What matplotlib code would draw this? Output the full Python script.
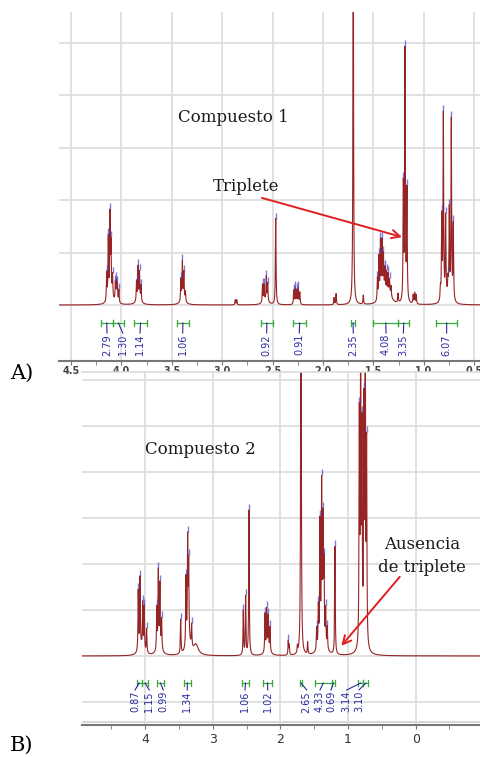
import numpy as np
import matplotlib
matplotlib.use("Agg")
import matplotlib.pyplot as plt
from matplotlib.ticker import MultipleLocator, FormatStrFormatter

# Compuesto 1
top_ppm = [4.146, 4.130, 4.113, 4.103, 4.088, 4.060, 4.050, 4.040, 4.025,
           3.850, 3.835, 3.820, 3.805, 3.410, 3.395, 3.380, 3.365,
           2.870, 2.855, 2.600, 2.585, 2.562, 2.548, 2.469,
           2.290, 2.275, 2.260, 2.245, 2.230, 1.890, 1.870, 1.700, 1.600,
           1.460, 1.445, 1.430, 1.415, 1.400, 1.385, 1.370, 1.355, 1.340, 1.325,
           1.255, 1.203, 1.186, 1.167, 1.105, 1.090, 1.075,
           0.835, 0.822, 0.806, 0.783, 0.760, 0.747, 0.727, 0.707]
top_int = [28, 62, 82, 50, 22, 18, 20, 18, 13,
           20, 33, 28, 16, 22, 38, 28, 10,
           5, 5, 18, 16, 24, 18, 86,
           14, 16, 14, 16, 12, 7, 11, 400, 9,
           22, 42, 55, 52, 36, 24, 22, 20, 14, 10,
           9, 115, 250, 110, 9, 11, 9,
           12, 82, 185, 80, 15, 88, 180, 76]
top_broad_ppm = [4.10, 3.83, 3.39, 2.57, 1.40, 1.34, 0.77]
top_broad_int = [6, 4, 4, 4, 10, 8, 6]

# Compuesto 2
bot_ppm = [4.104, 4.078, 4.038, 4.015, 3.980, 3.830, 3.807, 3.783, 3.758,
           3.476, 3.398, 3.373, 3.358, 3.314,
           2.550, 2.515, 2.466, 2.229, 2.204, 2.180, 2.155,
           1.885, 1.870, 1.750, 1.697, 1.598,
           1.465, 1.440, 1.416, 1.391, 1.371, 1.356, 1.331, 1.307, 1.194,
           0.834, 0.814, 0.795, 0.765, 0.746, 0.726]
bot_int = [60, 70, 45, 44, 24, 42, 76, 62, 30,
           34, 68, 100, 74, 22,
           44, 58, 145, 38, 40, 33, 24,
           14, 10, 7, 500, 12,
           22, 40, 120, 150, 112, 72, 36, 22, 108,
           225, 320, 200, 225, 320, 195]
bot_broad_ppm = [4.06, 3.79, 3.36, 3.25, 2.19, 1.38, 0.78]
bot_broad_int = [8, 8, 14, 10, 6, 18, 10]

# integrales
top_lab = ['2.79', '1.30', '1.14', '1.06', '0.92', '0.91', '2.35', '4.08', '3.35', '6.07']
top_i1 = [4.205, 4.086, 3.872, 3.451, 2.615, 2.295, 1.722, 1.501, 1.253, 0.879]
top_i2 = [4.086, 3.974, 3.749, 3.329, 2.499, 2.169, 1.680, 1.253, 1.144, 0.668]
top_lx = [4.143, 3.987, 3.816, 3.392, 2.559, 2.235, 1.700, 1.375, 1.203, 0.773]

bot_lab = ['0.87', '1.15', '0.99', '1.34', '1.06', '1.02', '2.65', '4.33', '0.69', '3.14', '3.10']
bot_i1 = [4.127, 4.053, 3.831, 3.428, 2.574, 2.254, 1.712, 1.490, 1.243, 0.849, 0.775]
bot_i2 = [4.053, 3.956, 3.723, 3.328, 2.462, 2.130, 1.682, 1.243, 1.194, 0.775, 0.701]
bot_lx = [4.152, 3.941, 3.734, 3.379, 2.525, 2.189, 1.612, 1.416, 1.253, 1.021, 0.839]

line_col = '#962424'
grid_col = '#dcdcdc'
int_col = '#3aaa3a'
num_col = '#2a2aa0'


def spectrum(x, ppm, inten, w, bppm, bint, bw):
    y = np.zeros_like(x)
    for p, h in zip(ppm, inten):
        y += h / (1 + ((x - p) / w) ** 2)
    for p, h in zip(bppm, bint):
        y += h / (1 + ((x - p) / bw) ** 2)
    return y


fig = plt.figure(figsize=(4.81, 7.57), dpi=100)
arrow = dict(arrowstyle='->, head_length=0.6, head_width=0.3', color='#e02020',
             lw=1.4, shrinkA=0, shrinkB=0)

# ---------- panel A ----------
ax1 = fig.add_axes([0.1227, 0.5235, 0.8773, 0.4606])
x1 = np.linspace(0.40, 4.65, 20000)
y1 = spectrum(x1, top_ppm, top_int, 0.0035, top_broad_ppm, top_broad_int, 0.03)
ax1.plot(x1, y1, color=line_col, lw=0.8)
mk = [p for p, h in zip(top_ppm, top_int) if h > 12]
ax1.plot(mk, np.interp(mk, x1, y1) + 3, ls='none', marker='|', ms=4,
         color='#4646c8', alpha=0.7)
ax1.set_xlim(4.619, 0.4325)
ax1.set_ylim(-55.7, 293)
ax1.xaxis.set_major_locator(MultipleLocator(0.5))
ax1.xaxis.set_minor_locator(MultipleLocator(0.25))
ax1.xaxis.set_major_formatter(FormatStrFormatter('%.1f'))
ax1.set_yticks(np.arange(0, 293, 52.5))
ax1.grid(True, color=grid_col, lw=1.2)
ax1.set_axisbelow(True)
ax1.tick_params(axis='y', length=0, labelleft=False)
ax1.tick_params(axis='x', which='both', direction='out', length=3, color='#777777',
                labelsize=7, labelcolor='#444444', pad=1)
for t in ax1.get_xticklabels():
    t.set_fontweight('bold')
for s in ['left', 'right', 'top']:
    ax1.spines[s].set_visible(False)
ax1.spines['bottom'].set_color('#777777')
ax1.spines['bottom'].set_linewidth(1.5)

for lab, a, b, lx in zip(top_lab, top_i1, top_i2, top_lx):
    ax1.plot([a, b], [-18, -18], color=int_col, lw=0.9)
    ax1.plot([a, a], [-21, -15], color=int_col, lw=0.9)
    ax1.plot([b, b], [-21, -15], color=int_col, lw=0.9)
    ax1.plot([(a + b) / 2, lx], [-18, -28], color=num_col, lw=0.8)
    ax1.text(lx, -29, lab, rotation=90, ha='center', va='top', fontsize=7,
             color=num_col)

ax1.text(2.893, 3.58 * 52.5, 'Compuesto 1', fontsize=12, family='DejaVu Serif',
         ha='center', va='center', color='#1a1a1a')
ax1.text(2.764, 2.25 * 52.5, 'Triplete', fontsize=12, family='DejaVu Serif',
         ha='center', va='center', color='#1a1a1a')
ax1.annotate('', xy=(1.216, 1.295 * 52.5), xytext=(2.605, 2.04 * 52.5),
             arrowprops=arrow)

# ---------- panel B ----------
ax2 = fig.add_axes([0.1705, 0.0423, 0.8295, 0.4663])
x2 = np.linspace(-1.0, 5.0, 24000)
y2 = spectrum(x2, bot_ppm, bot_int, 0.005, bot_broad_ppm, bot_broad_int, 0.04)
ax2.plot(x2, y2, color=line_col, lw=0.8)
mk = [p for p, h in zip(bot_ppm, bot_int) if h > 12]
ax2.plot(mk, np.interp(mk, x2, y2) + 3, ls='none', marker='|', ms=4,
         color='#4646c8', alpha=0.7)
ax2.set_xlim(4.936, -0.966)
ax2.set_ylim(-69, 284)
ax2.xaxis.set_major_locator(MultipleLocator(1))
ax2.xaxis.set_minor_locator(MultipleLocator(0.5))
ax2.set_yticks(np.arange(-46, 284, 46))
ax2.grid(True, color=grid_col, lw=1.2)
ax2.set_axisbelow(True)
ax2.axhline(-66, color='#cfcfcf', lw=1.2, zorder=0)
ax2.tick_params(axis='y', length=0, labelleft=False)
ax2.tick_params(axis='x', which='both', direction='out', length=3, color='#777777',
                labelsize=9, labelcolor='#333333', pad=3)
for s in ['left', 'right']:
    ax2.spines[s].set_visible(False)
ax2.spines['top'].set_color(grid_col)
ax2.spines['top'].set_linewidth(1.2)
ax2.spines['bottom'].set_color('#777777')
ax2.spines['bottom'].set_linewidth(1.5)

for lab, a, b, lx in zip(bot_lab, bot_i1, bot_i2, bot_lx):
    ax2.plot([a, b], [-27, -27], color=int_col, lw=0.9)
    ax2.plot([a, a], [-30, -24], color=int_col, lw=0.9)
    ax2.plot([b, b], [-30, -24], color=int_col, lw=0.9)
    ax2.plot([(a + b) / 2, lx], [-27, -34], color=num_col, lw=0.8)
    ax2.text(lx, -35, lab, rotation=90, ha='center', va='top', fontsize=7,
             color=num_col)

ax2.text(3.19, 4.48 * 46, 'Compuesto 2', fontsize=12, family='DejaVu Serif',
         ha='center', va='center', color='#1a1a1a')
ax2.text(-0.09, 2.43 * 46, 'Ausencia', fontsize=12, family='DejaVu Serif',
         ha='center', va='center', color='#1a1a1a')
ax2.text(-0.09, 1.93 * 46, 'de triplete', fontsize=12, family='DejaVu Serif',
         ha='center', va='center', color='#1a1a1a')
ax2.annotate('', xy=(1.10, 0.22 * 46), xytext=(0.236, 1.72 * 46),
             arrowprops=arrow)

fig.text(22 / 481, 1 - 373 / 757, 'A)', fontsize=15, family='DejaVu Serif',
         ha='center', va='center')
fig.text(22 / 481, 1 - 745 / 757, 'B)', fontsize=15, family='DejaVu Serif',
         ha='center', va='center')

fig.savefig('out.png', dpi=100)
